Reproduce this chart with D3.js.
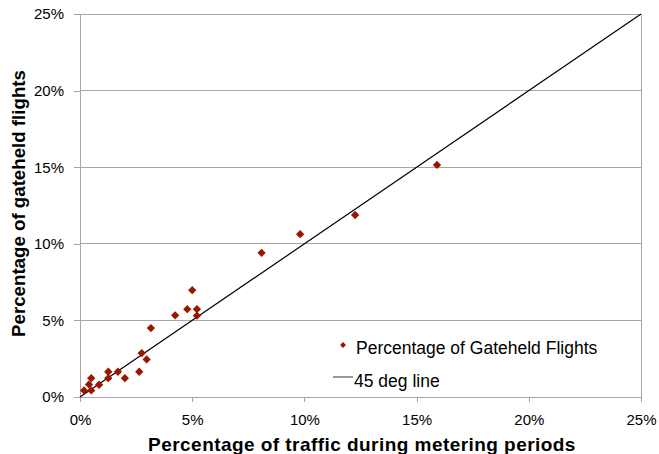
<!DOCTYPE html>
<html><head><meta charset="utf-8">
<script src="https://cdn.jsdelivr.net/npm/d3@7"></script>
<style>body{margin:0;background:#fff}svg{display:block;font-family:"Liberation Sans",Arial,sans-serif}</style>
</head><body><svg id="c" width="659" height="454"></svg>
<script>
const trafficPct = [0.18,0.40,0.50,0.50,0.85,1.26,1.26,1.69,2.00,2.64,2.75,2.97,3.16,4.24,4.78,5.00,5.21,5.21,8.09,9.81,12.26,15.91];
const gateheldPct = [0.43,0.82,1.23,0.43,0.80,1.23,1.65,1.65,1.23,1.65,2.87,2.45,4.50,5.33,5.73,6.97,5.73,5.31,9.41,10.63,11.88,15.15];
const lineX = [0,25];
const lineY = [0,25];
const tickValues = [0,5,10,15,20,25];
const seriesNames = ["Percentage of Gateheld Flights","45 deg line"];

const svg = d3.select("#c");
const L=80,R=641,T=14,B=397;
const x = d3.scaleLinear().domain([0,25]).range([L,R]);
const y = d3.scaleLinear().domain([0,25]).range([B,T]);
const grid="#a6a6a6";

svg.append("g").selectAll("line").data(tickValues).join("line")
  .attr("x1",L).attr("x2",R).attr("y1",d=>y(d)).attr("y2",d=>y(d))
  .attr("stroke",grid).attr("stroke-width",1).attr("shape-rendering","crispEdges");
svg.append("line").attr("x1",R).attr("x2",R).attr("y1",T).attr("y2",B).attr("stroke",grid).attr("shape-rendering","crispEdges");

const fmt = d=>d+"%";
const yAxis = svg.append("g").attr("transform",`translate(${L},0)`)
  .call(d3.axisLeft(y).tickValues(tickValues).tickFormat(fmt).tickSize(6).tickPadding(10));
const xAxis = svg.append("g").attr("transform",`translate(0,${B})`)
  .call(d3.axisBottom(x).tickValues(tickValues).tickFormat(fmt).tickSize(5).tickPadding(12));
[yAxis,xAxis].forEach(a=>{
  a.selectAll("path,line").attr("stroke",grid).attr("shape-rendering","crispEdges");
  a.selectAll("text").attr("font-size",15).attr("fill","#000").attr("font-family","Liberation Sans, Arial, sans-serif");
});

svg.append("path").datum(lineX.map((v,i)=>[v,lineY[i]]))
  .attr("d",d3.line().x(d=>x(d[0])).y(d=>y(d[1])))
  .attr("stroke","#000").attr("stroke-width",1.2).attr("fill","none");

const diamond = d3.symbol().type(d3.symbolDiamond2).size(44);
svg.append("g").selectAll("path").data(trafficPct.map((v,i)=>[v,gateheldPct[i]])).join("path")
  .attr("d",diamond).attr("transform",d=>`translate(${x(d[0])},${y(d[1])})`)
  .attr("fill","#9a1600");

// legend
svg.append("path").attr("d",d3.symbol().type(d3.symbolDiamond2).size(22)).attr("transform","translate(343,345)").attr("fill","#9a1600");
svg.append("text").attr("x",356).attr("y",354).attr("font-size",17.5).text(seriesNames[0]);
svg.append("line").attr("x1",333).attr("x2",353).attr("y1",377).attr("y2",377).attr("stroke","#555").attr("stroke-width",1.2);
svg.append("text").attr("x",354).attr("y",387).attr("font-size",17.5).text(seriesNames[1]);

svg.append("text").attr("x",362).attr("y",451).attr("text-anchor","middle").attr("font-size",19).attr("letter-spacing",0.45).attr("font-weight","bold").text("Percentage of traffic during metering periods");
svg.append("text").attr("transform","translate(25,203.5) rotate(-90)").attr("text-anchor","middle").attr("font-size",18.7).attr("font-weight","bold").text("Percentage of gateheld flights");
</script></body></html>
